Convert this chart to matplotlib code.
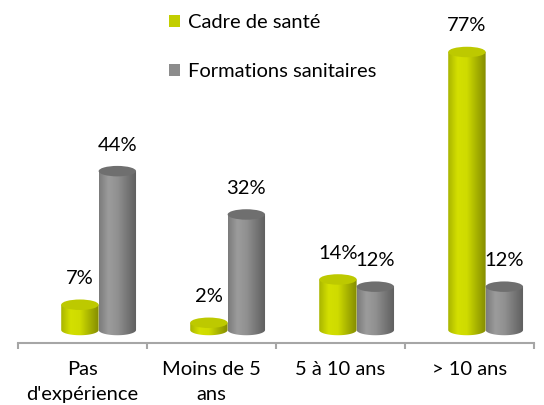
import numpy as np
import matplotlib
matplotlib.use("Agg")
import matplotlib.pyplot as plt
from matplotlib.patches import Ellipse, PathPatch, Rectangle
from matplotlib.path import Path
from matplotlib.colors import to_rgb

plt.rcParams['font.family'] = ['Lato', 'DejaVu Sans']

categories = ["Pas\nd'expérience", "Moins de 5\nans", "5 à 10 ans", "> 10 ans"]
cadre = [7, 2, 14, 77]
formations = [44, 32, 12, 12]
series_names = ["Cadre de santé", "Formations sanitaires"]

green_stops = ['#a9b500', '#d4e000', '#cfdb00', '#a8b300', '#858d00']
gray_stops = ['#7c7c7c', '#9c9c9c', '#909090', '#767676', '#5e5e5e']
green_top = '#bdc900'
gray_top = '#6f6f6f'

fig = plt.figure(figsize=(5.44, 4.05), dpi=100)
ax = fig.add_axes([18 / 544, 62 / 405, 516 / 544, 343 / 405])
ax.set_xlim(-0.5, 3.5)
ax.set_ylim(-3.6, 91.4)

bar_w = 0.29
ell_h = 2.9


def gradient(stops, n=64):
    cols = np.array([to_rgb(c) for c in stops])
    xs = np.linspace(0, 1, len(stops))
    t = np.linspace(0, 1, n)
    img = np.stack([np.interp(t, xs, cols[:, k]) for k in range(3)], axis=-1)
    return img[None, :, :]


def cylinder(xc, h, stops, top_color):
    x0, x1 = xc - bar_w / 2, xc + bar_w / 2
    th = np.linspace(np.pi, 2 * np.pi, 40)
    arc = np.column_stack([xc + bar_w / 2 * np.cos(th), ell_h / 2 * np.sin(th)])
    verts = [(x0, h)] + [tuple(p) for p in arc] + [(x1, h), (x0, h)]
    codes = [Path.MOVETO] + [Path.LINETO] * (len(verts) - 2) + [Path.CLOSEPOLY]
    clip = PathPatch(Path(verts, codes), facecolor='none', edgecolor='none')
    ax.add_patch(clip)
    im = ax.imshow(gradient(stops), extent=[x0, x1, -ell_h, h], aspect='auto',
                   interpolation='bilinear', zorder=2)
    im.set_clip_path(clip)
    ax.add_patch(Ellipse((xc, h), bar_w, ell_h, facecolor=top_color,
                         edgecolor='none', zorder=3))


x = np.arange(len(categories))
for i in range(len(categories)):
    cylinder(x[i] - 0.02, cadre[i], green_stops, green_top)
    cylinder(x[i] + 0.27, formations[i], gray_stops, gray_top)
    ax.annotate(f"{cadre[i]}%", (x[i] - 0.02, cadre[i]), xytext=(0, 26),
                textcoords='offset pixels', ha='center', va='center', fontsize=14.5)
    ax.annotate(f"{formations[i]}%", (x[i] + 0.27, formations[i]), xytext=(0, 26),
                textcoords='offset pixels', ha='center', va='center', fontsize=14.5)

for s in ['top', 'left', 'right']:
    ax.spines[s].set_visible(False)
ax.spines['bottom'].set_color('#a6a6a6')
ax.spines['bottom'].set_linewidth(1.5)
ax.set_yticks([])
ax.set_xticks(np.arange(len(categories) + 1) - 0.5)
ax.set_xticklabels([])
ax.tick_params(axis='x', which='major', length=4, width=1.5, color='#a6a6a6')
ax.set_xticks(x, minor=True)
ax.set_xticklabels(categories, minor=True, fontsize=14.5, linespacing=1.6)
ax.tick_params(axis='x', which='minor', length=0, pad=13)

handles = [Rectangle((0, 0), 1, 1, facecolor='#c2ce00'),
           Rectangle((0, 0), 1, 1, facecolor='#8c8c8c')]
fig.legend(handles, series_names, loc='upper left', bbox_to_anchor=(155 / 544, 1.0),
           frameon=False, fontsize=14.5, handlelength=0.55, handleheight=0.55,
           handletextpad=0.4, labelspacing=1.6, borderaxespad=0.3)

fig.savefig('out.png', dpi=100)
